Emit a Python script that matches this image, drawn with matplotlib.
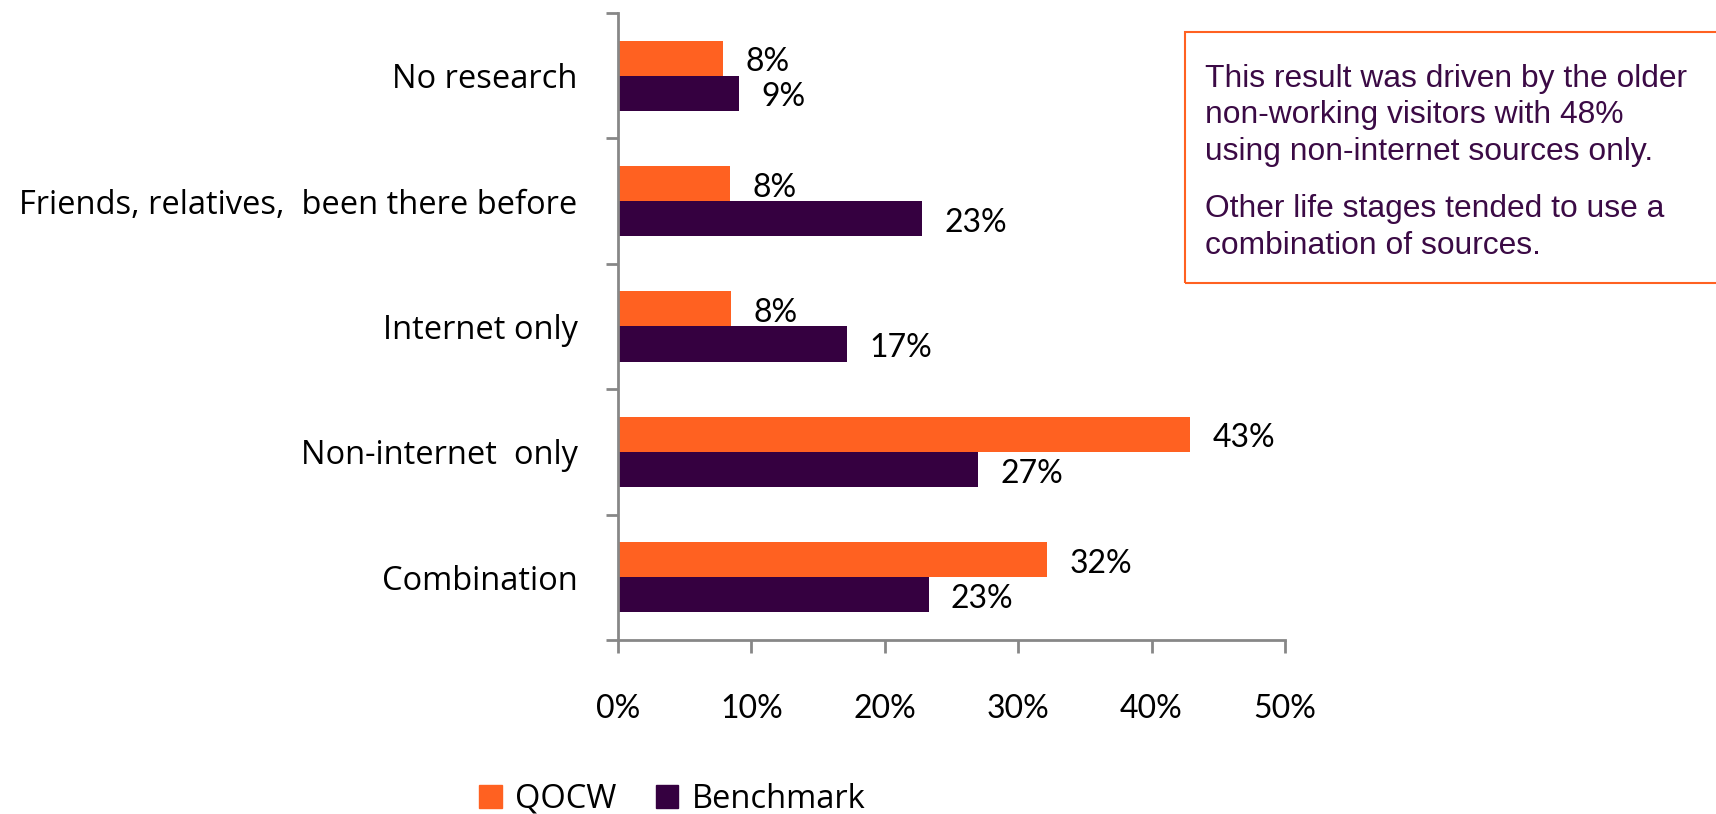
import matplotlib.pyplot as plt
import matplotlib.patches as mpatches
import numpy as np

categories = ['No research', 'Friends, relatives,  been there before', 'Internet only',
              'Non-internet  only', 'Combination']
qocw = [7.9, 8.4, 8.5, 42.9, 32.2]
benchmark = [9.1, 22.8, 17.2, 27.0, 23.3]
series_names = ['QOCW', 'Benchmark']
xticks = [0, 10, 20, 30, 40, 50]
note_lines = [['This result was driven by the older',
               'non-working visitors with 48%',
               'using non-internet sources only.'],
              ['Other life stages tended to use a',
               'combination of sources.']]

orange = '#FF6121'
purple = '#350040'
grey = '#878787'
note_color = '#3B0A45'

plt.rcParams['font.family'] = ['Lato', 'DejaVu Sans']

fig = plt.figure(figsize=(17.16, 8.14), dpi=100)
ax = fig.add_axes([0.3601, 0.2138, 0.3887, 0.7702])

y = np.arange(len(categories))
h = 0.28
ax.barh(y - h / 2, qocw, height=h, color=orange, label=series_names[0])
ax.barh(y + h / 2, benchmark, height=h, color=purple, label=series_names[1])

for vals, off in [(qocw, -h / 2), (benchmark, h / 2)]:
    for i, v in enumerate(vals):
        ax.annotate('%d%%' % round(v), (v, i + off), xytext=(16, -3),
                    textcoords='offset points', va='center', ha='left',
                    fontsize=23, color='black')

ax.set_xlim(0, 50)
ax.set_ylim(len(categories) - 0.5, -0.5)
ax.set_xticks(xticks)
ax.set_xticklabels(['%d%%' % t for t in xticks], fontsize=23)
ax.set_yticks(y)
ax.set_yticklabels(categories, family='Open Sans', fontsize=23.5)
ax.set_yticks(np.arange(len(categories) + 1) - 0.5, minor=True)

for s in ['top', 'right']:
    ax.spines[s].set_visible(False)
for s in ['left', 'bottom']:
    ax.spines[s].set_color(grey)
    ax.spines[s].set_linewidth(2)

ax.tick_params(axis='y', which='major', length=0, pad=29)
ax.tick_params(axis='y', which='minor', length=9, width=2, color=grey, direction='out')
ax.tick_params(axis='x', length=9, width=2, color=grey, direction='out', pad=30)

# note box on the right, open past the figure edge
box = mpatches.Rectangle((1185 / 1716, 1 - 283 / 814), 0.4, 251 / 814,
                         transform=fig.transFigure, fill=False, edgecolor=orange,
                         linewidth=1.5, clip_on=False)
fig.patches.append(box)
base = 87
for para in note_lines:
    for line in para:
        fig.text(1205 / 1716, 1 - base / 814, line, fontsize=22.9, color=note_color,
                 family='Liberation Sans', va='baseline', ha='left')
        base += 36.5
    base += 21

handles = [mpatches.Patch(color=orange), mpatches.Patch(color=purple)]
fig.legend(handles, series_names, loc='lower left', bbox_to_anchor=(466 / 1716, -0.018),
           ncol=2, frameon=False, prop={'family': 'Open Sans', 'size': 23.5},
           handlelength=0.7, handleheight=0.7,
           handletextpad=0.4, columnspacing=1.2, borderaxespad=0)

fig.savefig('out.png', dpi=100)
